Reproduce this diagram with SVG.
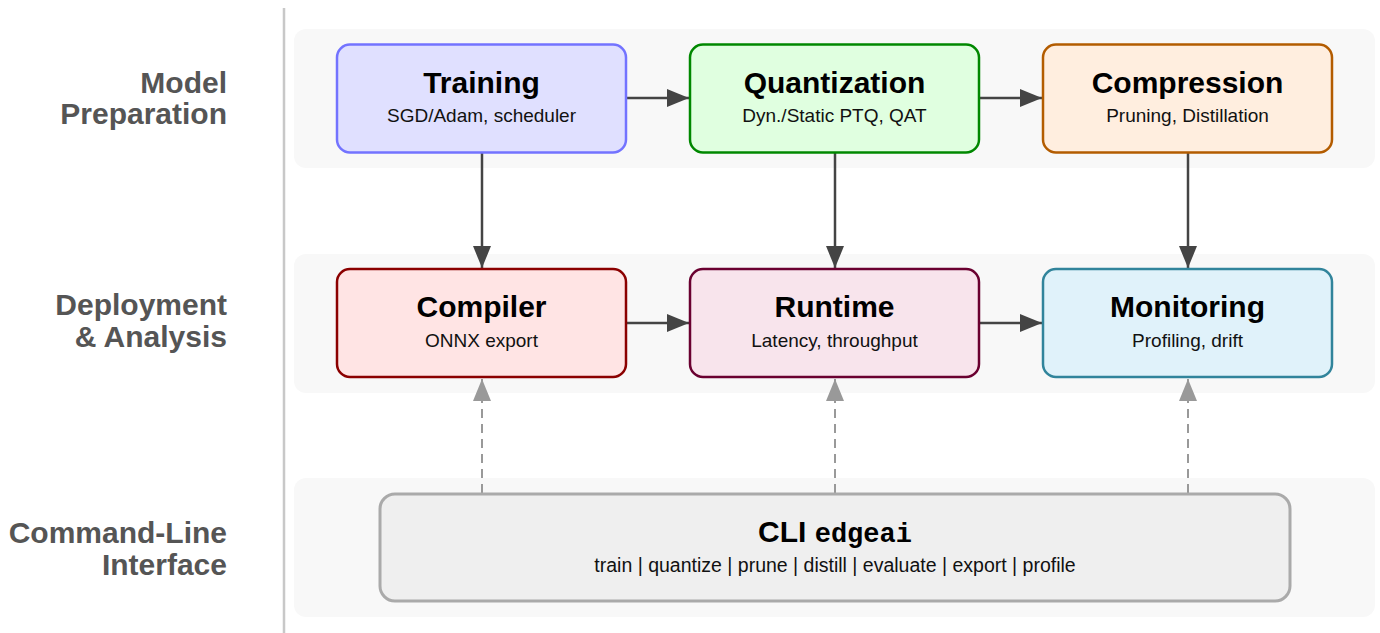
<svg xmlns="http://www.w3.org/2000/svg" width="1380" height="633" viewBox="0 0 1380 633">
  <defs>
    <marker id="arrow-solid" viewBox="0 0 22 18" refX="22" refY="9" markerWidth="22" markerHeight="18" markerUnits="userSpaceOnUse" orient="auto">
      <path d="M0,0 L22,9 L0,18 Z" fill="#444"/>
    </marker>
    <marker id="arrow-dashed" viewBox="0 0 22 18" refX="22" refY="9" markerWidth="22" markerHeight="18" markerUnits="userSpaceOnUse" orient="auto">
      <path d="M0,0 L22,9 L0,18 Z" fill="#999"/>
    </marker>
    <style>
      .lane-label { font-family: "Liberation Sans", Arial, sans-serif; font-weight: bold; font-size: 30px; fill: #555; text-anchor: end; }
      .band { fill: #f8f8f8; }
      .box { stroke-width: 2.5; }
      .title { font-family: "Liberation Sans", Arial, sans-serif; font-weight: bold; font-size: 30px; fill: #000; text-anchor: middle; }
      .sub { font-family: "Liberation Sans", Arial, sans-serif; font-size: 19px; fill: #111; text-anchor: middle; }
      .cmds { font-size: 19.5px; }
      .mono { font-family: "Liberation Mono", "Courier New", monospace; font-weight: bold; font-size: 27px; }
      .flow { stroke: #444; stroke-width: 2.5; fill: none; }
      .call { stroke: #999; stroke-width: 2; fill: none; stroke-dasharray: 9 6; }
    </style>
  </defs>

  <!-- lane divider -->
  <line x1="284" y1="8" x2="284" y2="633" stroke="#c8c8c8" stroke-width="2.5"/>

  <!-- lane labels -->
  <g id="lane-labels">
    <text class="lane-label" x="227" y="93">Model</text>
    <text class="lane-label" x="227" y="124">Preparation</text>
    <text class="lane-label" x="227" y="315">Deployment</text>
    <text class="lane-label" x="227" y="347">&amp; Analysis</text>
    <text class="lane-label" x="227" y="543">Command-Line</text>
    <text class="lane-label" x="227" y="575">Interface</text>
  </g>

  <!-- lane bands -->
  <g id="bands">
    <rect class="band" x="294" y="29" width="1081" height="139" rx="12"/>
    <rect class="band" x="294" y="254" width="1081" height="139" rx="12"/>
    <rect class="band" x="294" y="478" width="1081" height="139" rx="12"/>
  </g>

  <!-- connectors -->
  <g id="connectors">
    <line class="flow" x1="627" y1="98" x2="689" y2="98" marker-end="url(#arrow-solid)"/>
    <line class="flow" x1="980" y1="98" x2="1042" y2="98" marker-end="url(#arrow-solid)"/>
    <line class="flow" x1="627" y1="323" x2="689" y2="323" marker-end="url(#arrow-solid)"/>
    <line class="flow" x1="980" y1="323" x2="1042" y2="323" marker-end="url(#arrow-solid)"/>
    <line class="flow" x1="482" y1="153" x2="482" y2="268" marker-end="url(#arrow-solid)"/>
    <line class="flow" x1="835" y1="153" x2="835" y2="268" marker-end="url(#arrow-solid)"/>
    <line class="flow" x1="1188" y1="153" x2="1188" y2="268" marker-end="url(#arrow-solid)"/>
    <line class="call" x1="482" y1="493" x2="482" y2="379" marker-end="url(#arrow-dashed)"/>
    <line class="call" x1="835" y1="493" x2="835" y2="379" marker-end="url(#arrow-dashed)"/>
    <line class="call" x1="1188" y1="493" x2="1188" y2="379" marker-end="url(#arrow-dashed)"/>
  </g>

  <!-- nodes -->
  <g id="training">
    <rect class="box" x="337" y="44.5" width="289" height="108" rx="13" fill="#e0e0ff" stroke="#7373ff"/>
    <text class="title" x="481.5" y="93">Training</text>
    <text class="sub" x="481.5" y="122">SGD/Adam, scheduler</text>
  </g>
  <g id="quantization">
    <rect class="box" x="690" y="44.5" width="289" height="108" rx="13" fill="#e0ffe0" stroke="#008800"/>
    <text class="title" x="834.5" y="93">Quantization</text>
    <text class="sub" x="834.5" y="122">Dyn./Static PTQ, QAT</text>
  </g>
  <g id="compression">
    <rect class="box" x="1043" y="44.5" width="289" height="108" rx="13" fill="#ffeedf" stroke="#b35c00"/>
    <text class="title" x="1187.5" y="93">Compression</text>
    <text class="sub" x="1187.5" y="122">Pruning, Distillation</text>
  </g>
  <g id="compiler">
    <rect class="box" x="337" y="269" width="289" height="108" rx="13" fill="#ffe4e4" stroke="#8b0000"/>
    <text class="title" x="481.5" y="317">Compiler</text>
    <text class="sub" x="481.5" y="347">ONNX export</text>
  </g>
  <g id="runtime">
    <rect class="box" x="690" y="269" width="289" height="108" rx="13" fill="#f8e4ec" stroke="#6a0030"/>
    <text class="title" x="834.5" y="317">Runtime</text>
    <text class="sub" x="834.5" y="347">Latency, throughput</text>
  </g>
  <g id="monitoring">
    <rect class="box" x="1043" y="269" width="289" height="108" rx="13" fill="#e0f2fa" stroke="#31849b"/>
    <text class="title" x="1187.5" y="317">Monitoring</text>
    <text class="sub" x="1187.5" y="347">Profiling, drift</text>
  </g>
  <g id="cli">
    <rect x="380" y="494" width="910" height="107" rx="15" fill="#efefef" stroke="#aaaaaa" stroke-width="3"/>
    <text class="title" x="835" y="542">CLI <tspan class="mono">edgeai</tspan></text>
    <text class="sub cmds" x="835" y="572">train | quantize | prune | distill | evaluate | export | profile</text>
  </g>
</svg>
